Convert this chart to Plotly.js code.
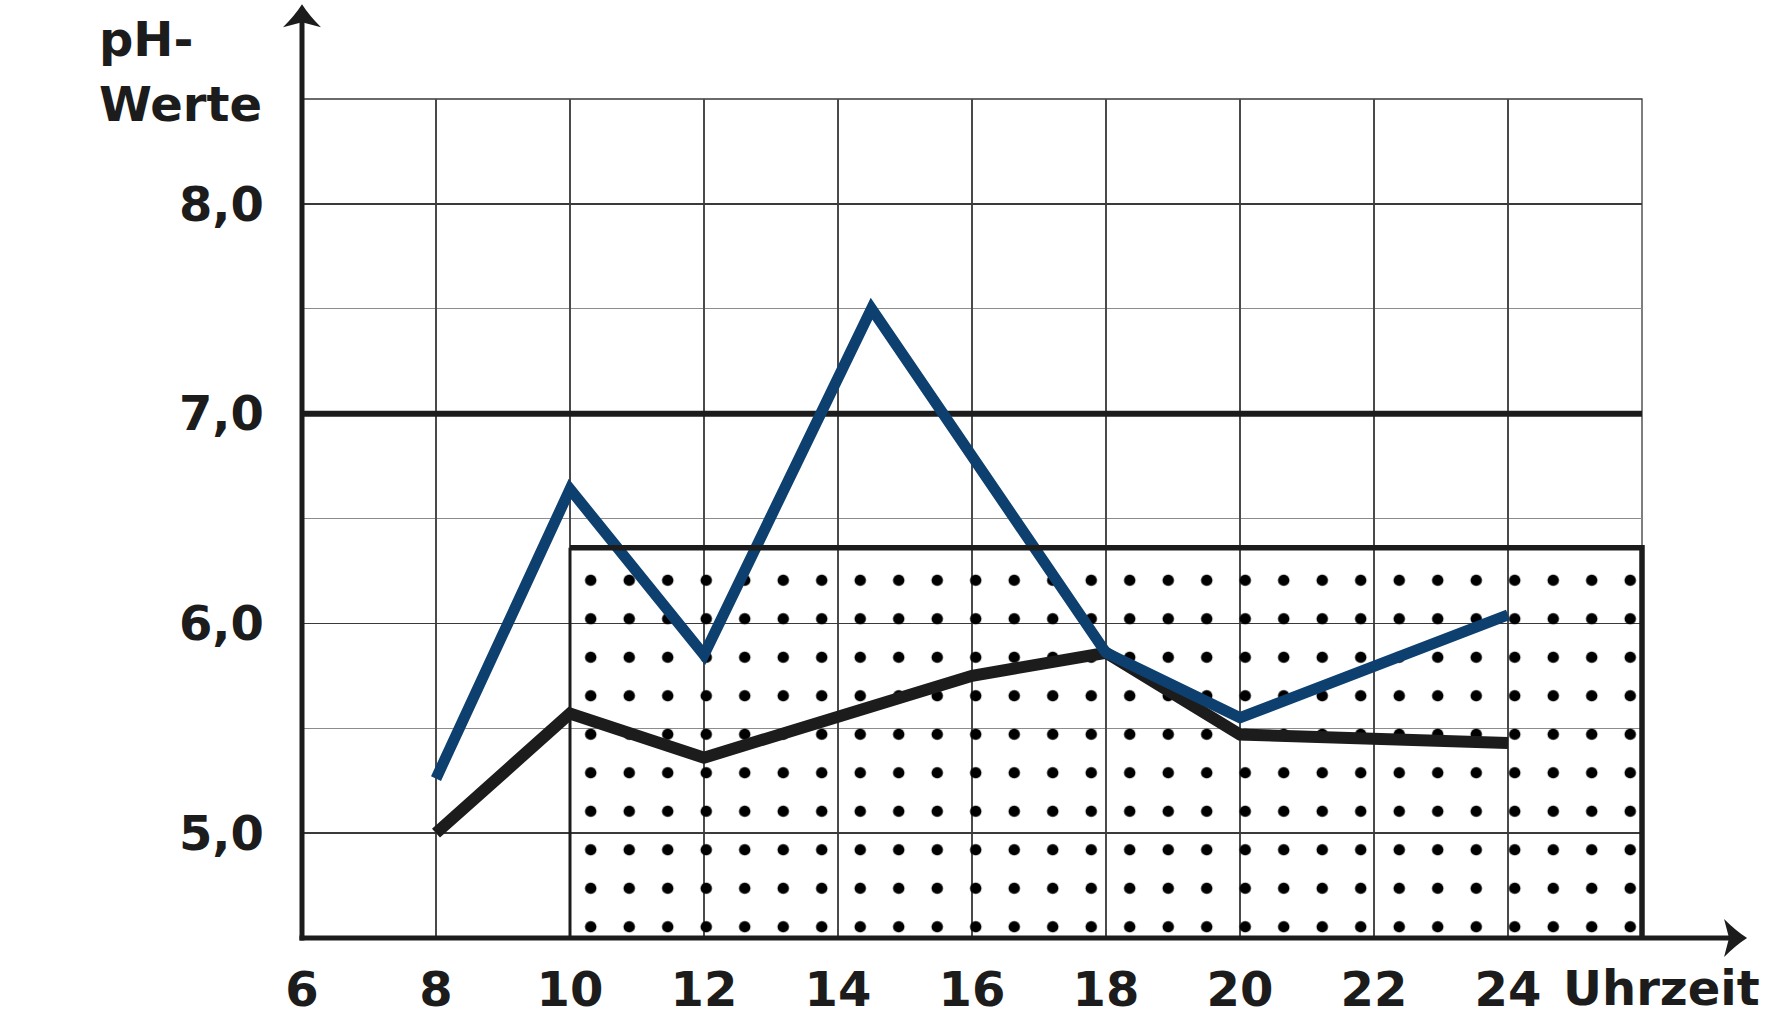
<!DOCTYPE html>
<html><head><meta charset="utf-8">
<script src="https://cdn.plot.ly/plotly-3.0.1.min.js"></script>
<style>html,body{margin:0;padding:0;background:#fff;}#chart{width:1770px;height:1016px;}</style>
</head><body><div id="chart"></div>
<script>
// ---- data ----
const hourTicks = [6, 8, 10, 12, 14, 16, 18, 20, 22, 24];
const phTickVals = [5, 6, 7, 8];
const phTickText = ['5,0', '6,0', '7,0', '8,0'];

const blueHours = [8, 10, 12, 14.5, 18, 20, 24];
const bluePH    = [5.26, 6.64, 5.85, 7.5, 5.86, 5.55, 6.04];

const blackHours = [8, 10, 12, 16, 18, 20, 24];
const blackPH    = [5.0, 5.57, 5.36, 5.75, 5.86, 5.47, 5.43];

const neutralHours = [6, 26];
const neutralPH    = [7.0, 7.0];

const zoneHours = [10, 26];
const zonePH    = [4.5, 6.36];

const xRange = [6, 26];
const yRange = [4.5, 8.5];

// axis arrows (paper units of the plot area)
const timeArrowTip = 1.0784;
const phArrowTip   = 1.113;

// ---- styles ----
const INK = '#1c1c1c';
const BLUE = '#0d3f6f';
const FONT = {family: 'DejaVu Sans, Verdana, sans-serif', size: 48, color: INK, weight: 'bold'};

const toPaperX = h => (h - xRange[0]) / (xRange[1] - xRange[0]);

const traces = [
  { // dotted zone
    x: [zoneHours[0], zoneHours[1], zoneHours[1], zoneHours[0], zoneHours[0]],
    y: [zonePH[0], zonePH[0], zonePH[1], zonePH[1], zonePH[0]],
    mode: 'lines', fill: 'toself', line: {width: 0, color: 'rgba(0,0,0,0)'},
    fillcolor: 'rgba(0,0,0,0)',
    fillpattern: {shape: '.', size: 38.5, solidity: 0.07, fgcolor: '#000', bgcolor: 'rgba(0,0,0,0)'},
    hoverinfo: 'skip'
  },
  { // pH 7 line
    x: neutralHours, y: neutralPH, mode: 'lines',
    line: {color: INK, width: 6}, hoverinfo: 'skip'
  },
  {
    x: blackHours, y: blackPH, mode: 'lines',
    line: {color: INK, width: 12}
  },
  {
    x: blueHours, y: bluePH, mode: 'lines',
    line: {color: BLUE, width: 11}
  }
];

const zx0 = toPaperX(zoneHours[0]), zx1 = toPaperX(zoneHours[1]);

const shapes = [
  // thin frame (top and right)
  {type: 'rect', xref: 'paper', yref: 'paper', x0: 0, x1: 1, y0: 0, y1: 1,
   line: {color: '#3a3a3a', width: 1.3}, layer: 'below'},
  // zone borders
  {type: 'line', xref: 'paper', yref: 'y', x0: zx0, x1: zx0, y0: zonePH[0], y1: zonePH[1],
   line: {color: INK, width: 3}, layer: 'above'},
  {type: 'path', xref: 'paper', yref: 'y',
   path: `M${zx0},${zonePH[1]} L${zx1},${zonePH[1]} L${zx1},${zonePH[0]}`,
   line: {color: INK, width: 5.5}, layer: 'above'},
  // axis lines
  {type: 'line', xref: 'paper', yref: 'paper', x0: -0.0019, x1: timeArrowTip - 0.01, y0: 0, y1: 0,
   line: {color: INK, width: 5}, layer: 'above'},
  {type: 'line', xref: 'paper', yref: 'paper', x0: 0, x1: 0, y0: -0.003, y1: phArrowTip - 0.016,
   line: {color: INK, width: 5}, layer: 'above'},
  // arrowheads (pixel geometry)
  {type: 'path', xref: 'paper', yref: 'paper', xsizemode: 'pixel', ysizemode: 'pixel',
   xanchor: timeArrowTip, yanchor: 0,
   path: 'M0,0 Q-11,7 -23,19 L-18,0 L-23,-19 Q-11,-7 0,0 Z',
   fillcolor: INK, line: {width: 0}, layer: 'above'},
  {type: 'path', xref: 'paper', yref: 'paper', xsizemode: 'pixel', ysizemode: 'pixel',
   xanchor: 0, yanchor: phArrowTip,
   path: 'M0,0 Q7,-11 19,-23 L0,-18 L-19,-23 Q-7,-11 0,0 Z',
   fillcolor: INK, line: {width: 0}, layer: 'above'}
];

const layout = {
  width: 1770, height: 1016,
  margin: {l: 302, r: 128, t: 99, b: 78, pad: 0},
  paper_bgcolor: '#ffffff', plot_bgcolor: '#ffffff',
  showlegend: false,
  font: FONT,
  xaxis: {
    range: xRange, tickvals: hourTicks, ticktext: hourTicks.map(String),
    showgrid: true, gridcolor: '#4a4a4a', gridwidth: 1.3,
    showline: false, zeroline: false,
    ticks: '', ticklabelstandoff: 19, tickfont: FONT, fixedrange: true
  },
  yaxis: {
    range: yRange, tickvals: phTickVals, ticktext: phTickText,
    showgrid: true, gridcolor: '#3a3a3a', gridwidth: 1.3,
    minor: {tick0: 4.5, dtick: 0.5, showgrid: true, gridcolor: '#8c8c8c', gridwidth: 1.3},
    showline: false, zeroline: false,
    ticks: '', ticklabelstandoff: 37, tickfont: FONT, fixedrange: true
  },
  shapes: shapes,
  annotations: [
    {text: 'pH-', xref: 'paper', yref: 'paper', x: -0.153, y: 1.036, xanchor: 'left', yanchor: 'bottom',
     showarrow: false, font: FONT},
    {text: 'Werte', xref: 'paper', yref: 'paper', x: -0.153, y: 0.958, xanchor: 'left', yanchor: 'bottom',
     showarrow: false, font: FONT},
    {text: 'Uhrzeit', xref: 'paper', yref: 'paper', x: 0.9396, y: -0.0238, xanchor: 'left', yanchor: 'top',
     showarrow: false, font: FONT}
  ]
};

Plotly.newPlot('chart', traces, layout, {displayModeBar: false, staticPlot: true});
</script>
</body></html>
